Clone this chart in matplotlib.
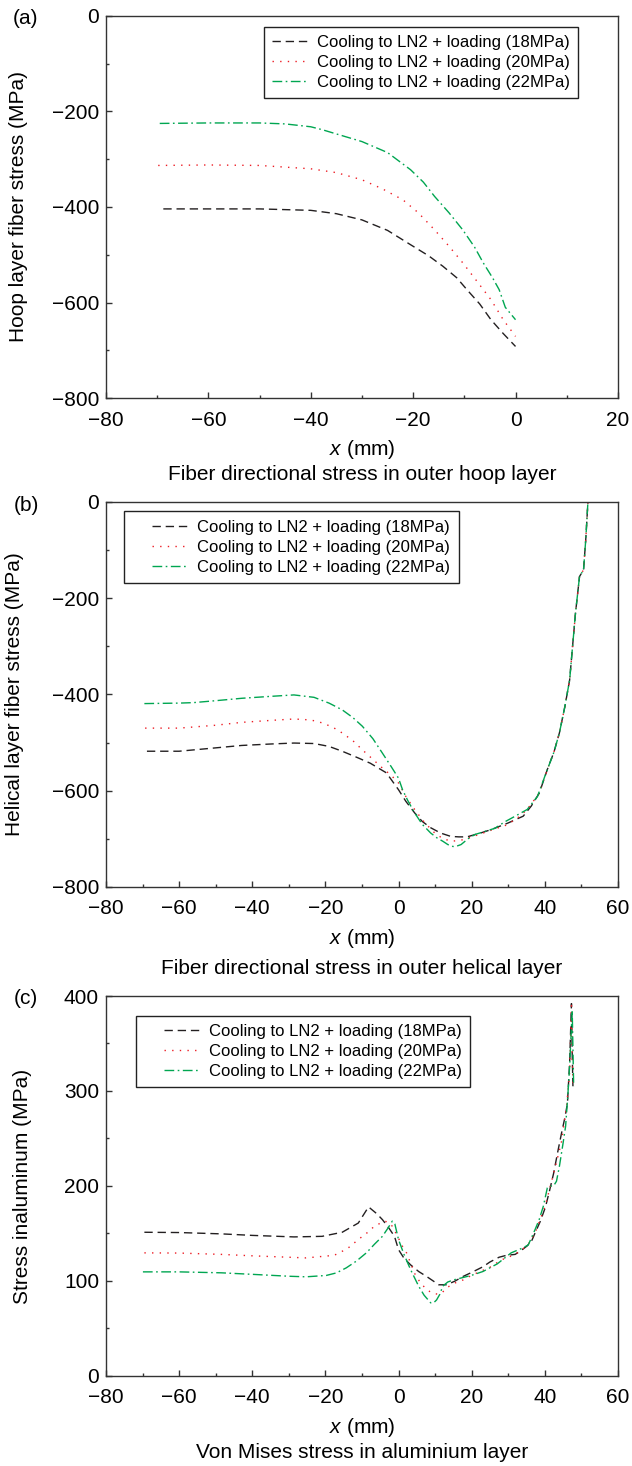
import numpy as np
import matplotlib.pyplot as plt
from matplotlib.ticker import MultipleLocator
from matplotlib.legend_handler import HandlerLine2D

plt.rcParams['font.family'] = ['Liberation Sans', 'DejaVu Sans']
plt.rcParams['mathtext.fontset'] = 'custom'
plt.rcParams['mathtext.it'] = 'Liberation Sans:italic'
plt.rcParams['mathtext.rm'] = 'Liberation Sans'

labels = ["Cooling to LN2 + loading (18MPa)",
          "Cooling to LN2 + loading (20MPa)",
          "Cooling to LN2 + loading (22MPa)"]

# (a) hoop layer
a_x18 = [-68.8, -60, -50, -40, -35, -30, -25, -20.5, -17, -14.2, -11.5, -9.5, -7, -4.8, -2.4, 0]
a_y18 = [-404, -404, -404, -407, -414, -427, -449, -479, -502, -524, -548, -573, -603, -636, -665, -692]
a_x20 = [-69.8, -60, -50, -40, -35, -30, -26, -22, -19, -15.8, -13, -10.3, -7.5, -4.8, -2.4, 0]
a_y20 = [-313, -312, -313, -320, -328, -343, -362, -385, -412, -448, -482, -517, -556, -594, -636, -671]
a_x22 = [-69.5, -60, -50, -45, -40, -37.8, -35, -30, -25, -20.5, -18, -15.8, -13, -10.3, -8, -6.3,
         -4.5, -3.2, -2, 0]
a_y22 = [-225, -224, -224, -226, -232, -238, -247, -263, -286, -322, -348, -378, -412, -448, -484, -517,
         -548, -573, -610, -636]

# (b) helical layer
b_x18 = [-68.8, -60, -50, -42.9, -35, -28.6, -23.1, -19, -15.4, -11, -7.7, -3.3, 0, 2, 4.4, 6.5, 8.8,
         11.5, 14.3, 16.5, 18.7, 22, 25.3, 30, 34.1, 36.3, 38.5, 40.7, 42.5, 44, 45.5, 46.8, 47.6, 48.4,
         49.5, 50.6, 51.2, 51.8]
b_y18 = [-518, -518, -511, -506, -503, -501, -502, -508, -518, -532, -543, -563, -598, -622, -646, -664,
         -677, -688, -695, -696, -696, -689, -681, -667, -653, -632, -605, -556, -520, -480, -425, -370,
         -300, -231, -155, -141, -79, 0]
b_x20 = [-69.3, -60, -50, -42.9, -35, -28.6, -24, -20.9, -18, -15.4, -12.5, -9.9, -7, -4.4, -2, 0, 2,
         4.4, 7, 9.9, 12, 14.3, 16, 17.6, 20, 22, 25, 29.7, 33, 35.2, 38.5, 40.7, 42.5, 44, 45.5, 46.8,
         47.6, 48.4, 49.5, 50.6, 51.2, 51.8]
b_y20 = [-470, -470, -464, -458, -454, -451, -453, -459, -468, -480, -496, -515, -535, -553, -568, -584,
         -612, -639, -665, -688, -699, -705, -704, -702, -696, -691, -683, -671, -654, -639, -605, -556,
         -520, -480, -425, -370, -300, -231, -155, -141, -79, 0]
b_x22 = [-69.5, -60, -56.1, -50, -42.9, -35, -28.6, -23.1, -19, -15.4, -12.5, -9.9, -7, -4.4, -2, 0,
         1.1, 2.5, 4.4, 6.5, 8.8, 10.5, 12.1, 13.5, 14.9, 16, 17.1, 19, 20.9, 23.5, 26.4, 29, 31.9, 35.2,
         38, 40.7, 42.5, 44, 45.5, 46.8, 47.6, 48.4, 49.5, 50.6, 51.2, 51.8]
b_y22 = [-419, -418, -417, -413, -408, -404, -401, -406, -418, -432, -448, -466, -492, -522, -550, -574,
         -598, -620, -646, -670, -688, -698, -705, -712, -716, -715, -712, -700, -691, -685, -678, -665,
         -653, -639, -612, -556, -520, -480, -425, -370, -300, -231, -155, -141, -79, 0]

# (c) aluminium layer
c_x18 = [-69.5, -60, -48.4, -40, -28.6, -20.9, -15.4, -11, -8.2, -6, -4.4, -2.5, -1.1, 0, 1.5, 3.3, 5.5,
         7.7, 9.5, 11, 13.2, 15.5, 17.6, 20, 23.1, 25, 27.5, 29.5, 31.9, 33.5, 35.2, 36.5, 37.4, 38.8,
         40.2, 41.3, 42.4, 43.5, 44.6, 45.5, 46.2, 46.8, 47.3, 47.5, 47.7]
c_y18 = [151.3, 151, 149.6, 148, 146.4, 147, 151.3, 161, 178, 171, 164.6, 155, 147, 133, 124, 117, 110,
         104.7, 100, 96, 96, 100, 104.7, 109, 115, 120, 125, 127, 128, 132, 137, 143, 151, 163,
         178, 195, 213, 235, 256, 272, 287, 330, 392, 340, 305]
c_x20 = [-69.5, -60, -48.4, -40, -25.3, -17.6, -14, -11, -8.5, -6.6, -3.9, -2.8, -1.7, 0, 1, 2.2, 4.4,
         6, 7.7, 9.3, 11, 12, 13.2, 15.5, 17.6, 20, 25.3, 28, 31.9, 35.2, 37.4, 40.2, 42.4, 44.5, 46,
         46.8, 47.3, 47.5, 47.7]
c_y20 = [129.6, 129.4, 128, 126.5, 124.3, 127, 134, 143.6, 151, 157.6, 163, 162, 157.6, 145, 137, 129.6,
         108, 98, 91, 87, 86, 88, 93, 98, 101, 106, 115, 122, 128, 137, 151, 180, 213, 245, 285,
         320, 390, 340, 308]
c_x22 = [-69.9, -60, -48.4, -40, -30, -25.3, -19.8, -17, -14.3, -11.5, -8.8, -6.5, -4.4, -3, -1.7, -1,
         0, 1.5, 3.3, 5.5, 7, 8.8, 9.6, 10.4, 11.3, 12.1, 13.5, 15.4, 18, 20, 23.1, 27, 30.8, 34.1, 35.5,
         37.4, 38.5, 39.6, 40.7, 41.5, 42.4, 43.2, 44, 45, 45.7, 46.3, 46.8, 47.2, 47.5, 47.9]
c_y22 = [109.6, 109.6, 108.6, 107, 105, 104.4, 105.8, 108.5, 113.8, 121, 129.6, 139, 147, 155, 163, 160,
         143.6, 128, 112, 94.6, 85, 77, 77, 80, 86, 94.6, 99, 101.5, 104, 106, 110, 118, 129.6, 135, 138,
         154.6, 165, 178.6, 198, 200, 200, 205, 220.7, 245, 263, 295, 326, 360, 385, 305]

colors = ['#231f20', '#ed1c24', '#00a651']
styles = [(0, (6, 3.5)), (0, (1, 4.5)), (0, (7, 2.5, 1.2, 2.5))]

fig = plt.figure(figsize=(6.32, 14.66), dpi=100)

panels = [
    dict(rect=[0.1677, 0.7285, 0.810, 0.2606], xs=[a_x18, a_x20, a_x22], ys=[a_y18, a_y20, a_y22],
         xlim=(-80, 20), ylim=(-800, 0), ymaj=200, ymin=100, ylabel="Hoop layer fiber stress (MPa)",
         ylab_x=-0.152, leg=(0.308, 0.972), lpad=0.0, tag="(a)", tag_y=18, sub_y=474,
         sub="Fiber directional stress in outer hoop layer"),
    dict(rect=[0.1677, 0.395, 0.810, 0.2626], xs=[b_x18, b_x20, b_x22], ys=[b_y18, b_y20, b_y22],
         xlim=(-80, 60), ylim=(-800, 0), ymaj=200, ymin=100, ylabel="Helical layer fiber stress (MPa)",
         ylab_x=-0.16, leg=(0.035, 0.976), lpad=1.2, tag="(b)", tag_y=506, sub_y=968,
         sub="Fiber directional stress in outer helical layer"),
    dict(rect=[0.1677, 0.0614, 0.810, 0.2592], xs=[c_x18, c_x20, c_x22], ys=[c_y18, c_y20, c_y22],
         xlim=(-80, 60), ylim=(0, 400), ymaj=100, ymin=50, ylabel="Stress inaluminum (MPa)",
         ylab_x=-0.145, leg=(0.058, 0.948), lpad=1.2, tag="(c)", tag_y=998, sub_y=1453,
         sub="Von Mises stress in aluminium layer"),
]

for p in panels:
    ax = fig.add_axes(p['rect'])
    for x, y, c, ls, lab in zip(p['xs'], p['ys'], colors, styles, labels):
        ax.plot(x, y, color=c, linestyle=ls, linewidth=1.0, label=lab)
    ax.set_xlim(*p['xlim'])
    ax.set_ylim(*p['ylim'])
    ax.xaxis.set_major_locator(MultipleLocator(20))
    ax.xaxis.set_minor_locator(MultipleLocator(10))
    ax.yaxis.set_major_locator(MultipleLocator(p['ymaj']))
    ax.yaxis.set_minor_locator(MultipleLocator(p['ymin']))
    ax.tick_params(which='both', direction='in', top=False, right=False, color='#333333')
    ax.tick_params(which='major', length=4.5, width=1.0, labelsize=15, pad=5)
    ax.tick_params(axis='x', which='major', pad=9)
    ax.tick_params(which='minor', length=2.5, width=1.0)
    for s in ax.spines.values():
        s.set_linewidth(1.0)
        s.set_color('#333333')
    ax.set_xlabel(r'$x$ (mm)', fontsize=15, labelpad=6)
    ax.set_ylabel(p['ylabel'], fontsize=15)
    ax.yaxis.set_label_coords(p['ylab_x'], 0.5)
    leg = ax.legend(loc='upper left', bbox_to_anchor=p['leg'], fontsize=12, frameon=True,
                    fancybox=False, edgecolor='#222222', framealpha=1, labelspacing=0.3,
                    handlelength=2.1 + p['lpad'], handletextpad=0.6, borderpad=0.5,
                    borderaxespad=0, handler_map={plt.Line2D: HandlerLine2D(xpad=p['lpad'])})
    leg.get_frame().set_linewidth(1.0)
    fig.text(26 / 632, 1 - p['tag_y'] / 1466, p['tag'], fontsize=15, ha='center', va='center')
    fig.text((106 + 618) / 2 / 632, 1 - p['sub_y'] / 1466, p['sub'], fontsize=15,
             ha='center', va='center')

fig.savefig('out.png', dpi=100)
